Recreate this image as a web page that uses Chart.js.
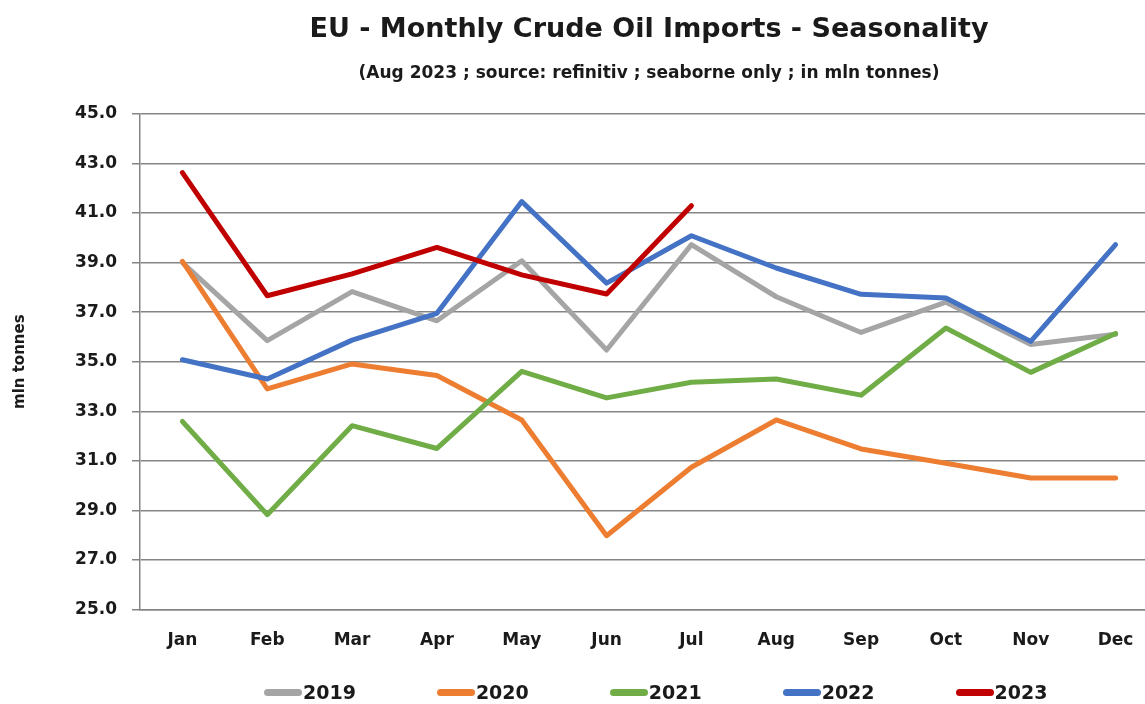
<!DOCTYPE html>
<html>
<head>
<meta charset="utf-8">
<script src="https://cdn.jsdelivr.net/npm/chart.js@4.4.0/dist/chart.umd.min.js"></script>
<style>
  html, body { margin: 0; padding: 0; background: #fff; overflow: hidden; }
  #wrap { position: relative; width: 1158px; height: 704px; }
  #legend { position: absolute; top: 681px; left: 264px; display: flex; gap: 81px;
            font-family: 'DejaVu Sans', sans-serif; font-weight: bold; font-size: 19px; color: #1a1a1a; }
  #legend .item { display: flex; align-items: center; }
  #legend .swatch { width: 38px; height: 7px; border-radius: 3.5px; margin-right: 1px; }
</style>
</head>
<body>
<div id="wrap">
  <canvas id="graph" width="1158" height="704"></canvas>
  <div id="legend"></div>
</div>
<script>
const MONTHS = ['Jan', 'Feb', 'Mar', 'Apr', 'May', 'Jun', 'Jul', 'Aug', 'Sep', 'Oct', 'Nov', 'Dec'];
const YEARS = ['2019', '2020', '2021', '2022', '2023'];
const COLORS = ['#A5A5A5', '#ED7D31', '#70AD47', '#4472C4', '#C00000'];

// mln tonnes
const v2019 = [39.0, 35.85, 37.83, 36.65, 39.07, 35.47, 39.72, 37.62, 36.18, 37.40, 35.69, 36.11];
const v2020 = [39.05, 33.9, 34.91, 34.44, 32.65, 27.98, 30.74, 32.65, 31.48, 30.9, 30.31, 30.31];
const v2021 = [32.59, 28.83, 32.42, 31.5, 34.61, 33.54, 34.17, 34.30, 33.65, 36.36, 34.57, 36.14];
const v2022 = [35.08, 34.30, 35.87, 36.95, 41.46, 38.17, 40.08, 38.78, 37.72, 37.57, 35.82, 39.72];
const v2023 = [42.63, 37.66, 38.54, 39.61, 38.5, 37.73, 41.29];

const Y_MIN = 25, Y_MAX = 45, Y_STEP = 2;

const TEXT = '#1a1a1a';
const GRID = '#858585';
const FONT = "'DejaVu Sans', sans-serif";

const series = [v2019, v2020, v2021, v2022, v2023];

const ctx = document.getElementById('graph').getContext('2d');

const myChart = new Chart(ctx, {
    type: 'line',
    data: {
        labels: MONTHS,
        datasets: series.map((vals, i) => ({
            label: YEARS[i],
            data: vals,
            borderColor: COLORS[i],
            backgroundColor: COLORS[i],
            borderWidth: 5,
            pointRadius: 0,
            tension: 0,
            borderJoinStyle: 'round',
            borderCapStyle: 'round',
            order: series.length - i   // later years on top
        }))
    },
    options: {
        responsive: false,
        animation: false,
        layout: { padding: { left: 0, right: 0, top: 0, bottom: 32 } },
        plugins: {
            legend: { display: false },
            tooltip: { enabled: false },
            title: {
                display: true,
                fullSize: false,
                text: 'EU - Monthly Crude Oil Imports - Seasonality',
                color: TEXT,
                font: { family: FONT, size: 27, weight: 'bold' },
                padding: { top: 14, bottom: 6 }
            },
            subtitle: {
                display: true,
                fullSize: false,
                text: '(Aug 2023 ; source: refinitiv ; seaborne only ; in mln tonnes)',
                color: TEXT,
                font: { family: FONT, size: 17, weight: 'bold' },
                padding: { top: 11, bottom: 30 }
            }
        },
        scales: {
            x: {
                offset: true,
                grid: { display: false, drawTicks: false },
                border: { display: true, color: GRID, width: 1.5 },
                ticks: { color: TEXT, font: { family: FONT, size: 17, weight: 'bold' }, padding: 21 }
            },
            y: {
                min: Y_MIN,
                max: Y_MAX,
                afterFit: (scale) => { scale.width = 140; },
                ticks: {
                    stepSize: Y_STEP,
                    color: TEXT,
                    padding: 15,
                    font: { family: FONT, size: 17, weight: 'bold' },
                    callback: (v) => v.toFixed(1)
                },
                grid: { color: GRID, lineWidth: 1.5, tickLength: 8, drawTicks: true },
                border: { display: true, color: GRID, width: 1.5 },
                title: {
                    display: true,
                    text: 'mln tonnes',
                    color: TEXT,
                    font: { family: FONT, size: 15, weight: 'bold' },
                    padding: { top: 11, bottom: 0 }
                }
            }
        }
    }
});

// legend laid out under the plot, built from the same series names and colours
const legendEl = document.getElementById('legend');
YEARS.forEach((y, i) => {
    const item = document.createElement('div');
    item.className = 'item';
    const sw = document.createElement('span');
    sw.className = 'swatch';
    sw.style.background = COLORS[i];
    const txt = document.createElement('span');
    txt.textContent = y;
    item.appendChild(sw);
    item.appendChild(txt);
    legendEl.appendChild(item);
});
</script>
</body>
</html>
